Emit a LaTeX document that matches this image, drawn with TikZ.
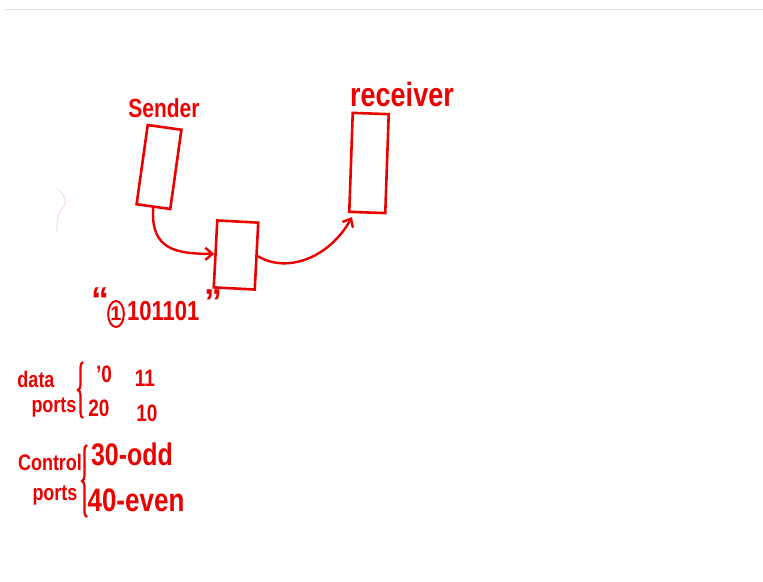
\documentclass[tikz,border=0pt]{standalone}
\usepackage{fontspec}
\setmainfont{Liberation Sans}
\usetikzlibrary{arrows.meta,decorations.pathreplacing,shapes.geometric}
\definecolor{ink}{RGB}{235,0,0}
\tikzset{
  box/.style={draw=ink, line width=2.6pt, rectangle, inner sep=0pt},
  lbl/.style={text=ink, inner sep=0pt, anchor=center, font=\bfseries},
  conn/.style={draw=ink, line width=2.4pt, -{Straight Barb[length=7pt,width=12pt,line width=2.4pt]}},
  brc/.style={draw=ink, line width=2.2pt, decorate, decoration={brace, amplitude=5pt}}
}
\newcommand{\fs}[1]{\fontsize{#1}{#1}\selectfont}
\newcommand{\tall}[1]{\scalebox{1}[1.25]{#1}}
\begin{document}
\begin{tikzpicture}[x=1pt,y=-1pt]
\useasboundingbox[fill=white] (0,0) rectangle (763,581);
% faint top rule and faint mark
\draw[gray!25, line width=0.8pt] (5,9) -- (763,9);
\draw[red!18, line width=0.8pt] (57,189) .. controls (66,195) and (68,203) .. (61,210) .. controls (57,215) and (57,222) .. (57,232);

% boxes
\node[box, minimum width=34pt, minimum height=80pt, rotate=-8] (sender) at (159,167) {};
\node[box, minimum width=41pt, minimum height=67pt, rotate=-3] (mid) at (236,255) {};
\node[box, minimum width=36pt, minimum height=99pt, rotate=-2] (recv) at (369,163) {};

% titles
\node[lbl] (tsender) at (164,108) {\fs{21}\tall{Sender}};
\node[lbl] (trecv) at (402,94) {\fs{27}\tall{receiver}};

% connectors
\draw[conn] (sender.south) .. controls +(-3,42) and +(-38,0) .. (mid.west);
\draw[conn] (mid.east) .. controls +(30,18) and +(-22,40) .. ([xshift=4pt,yshift=-4pt]recv.south west);

% bit string
\node[lbl, anchor=south] (q1) at (100,313) {\fs{36}“};
\node[draw=ink, ellipse, line width=2pt, inner sep=0pt, minimum width=13pt, minimum height=26pt, text=ink, font=\bfseries] (one) at (116,314) {\fs{20}1};
\node[lbl, anchor=west] (bits) at (127,311) {\fs{22}\tall{101101}};
\node[lbl] (q2) at (213,302) {\fs{36}”};

% data ports
\node[lbl] (data) at (36,379) {\fs{18}\tall{data}};
\node[lbl] (ports1) at (54,407) {\fs{18}\tall{ports}};
\coordinate (b1t) at (83,362);
\coordinate (b1b) at (83,418);
\draw[brc] (b1b) -- (b1t);
\node[lbl] (d1) at (104,374) {\fs{19}\tall{'0}};
\node[lbl] (d2) at (145,378) {\fs{19}\tall{11}};
\node[lbl] (d3) at (99,408) {\fs{19}\tall{20}};
\node[lbl] (d4) at (147,413) {\fs{19}\tall{10}};

% control ports
\node[lbl] (ctrl) at (50,462) {\fs{18}\tall{Control}};
\node[lbl] (ports2) at (55,495) {\fs{18}\tall{ports}};
\coordinate (b2t) at (87,445);
\coordinate (b2b) at (87,517);
\draw[brc] (b2b) -- (b2t);
\node[lbl] (c1) at (132,454) {\fs{25}\tall{30-odd}};
\node[lbl] (c2) at (136,500) {\fs{26}\tall{40-even}};
\end{tikzpicture}
\end{document}
